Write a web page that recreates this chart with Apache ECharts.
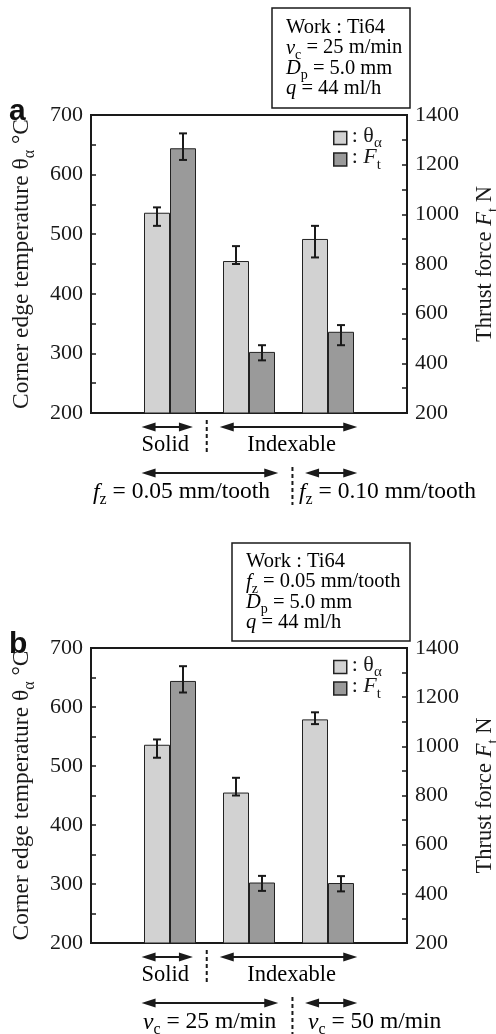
<!DOCTYPE html>
<html><head><meta charset="utf-8">
<script src="https://cdn.jsdelivr.net/npm/echarts/dist/echarts.min.js"></script>
<style>html,body{margin:0;padding:0;background:#fff}#c{width:496px;height:1034px}</style>
</head><body><div id="c"></div>
<script>
// ---------- data ----------
const groupX = [1, 2, 3];                 // Solid, Indexable, Indexable
const groupNames = ['Solid', 'Indexable', 'Indexable'];
const leftTicks = [200, 300, 400, 500, 600, 700];
const rightTicks = [200, 400, 600, 800, 1000, 1200, 1400];

// panel a
const thetaA = [536, 455, 492];
const thetaALo = [514, 450, 461];
const thetaAHi = [545, 480, 514];
const ftA = [1266, 446, 527];
const ftALo = [1219, 412, 473];
const ftAHi = [1326, 473, 554];
// panel b
const thetaB = [536, 455, 579];
const thetaBLo = [514, 450, 571];
const thetaBHi = [545, 480, 591];
const ftB = [1266, 446, 444];
const ftBLo = [1219, 412, 410];
const ftBHi = [1326, 473, 472];

// ---------- style ----------
const SERIF = 'Liberation Serif';
const INK = '#1a1a1a';
const LIGHT = '#d2d2d2';
const DARK = '#9a9a9a';
const BAR_W = 26;

function rich(fs, drop) {
  const sub = Math.round(fs * 0.68);
  return {
    m: {fontFamily: SERIF, fontSize: fs, color: INK, padding: [0, 0, drop, 0], verticalAlign: 'bottom'},
    i: {fontFamily: SERIF, fontSize: fs, color: INK, fontStyle: 'italic', padding: [0, 0, drop, 0], verticalAlign: 'bottom'},
    s: {fontFamily: SERIF, fontSize: sub, color: INK, verticalAlign: 'bottom'}
  };
}

const grids = [
  {left: 91, top: 115, width: 316, height: 298},
  {left: 91, top: 648, width: 316, height: 295}
];

function leftAxis(g) {
  return {
    type: 'value', gridIndex: g, position: 'left', min: leftTicks[0], max: leftTicks[leftTicks.length - 1], interval: 50,
    axisLine: {show: true, lineStyle: {color: INK, width: 2}},
    axisTick: {show: true, inside: true, length: 5, lineStyle: {color: INK, width: 1.5}},
    axisLabel: {formatter: v => leftTicks.includes(v) ? String(v) : '', fontFamily: SERIF, fontSize: 22, color: INK, margin: 8},
    splitLine: {show: false},
    name: '{m|Corner edge temperature θ}{s|α}{m| °C}', nameLocation: 'middle', nameGap: 53, nameRotate: 90,
    nameTextStyle: {rich: rich(23.5, 4)}
  };
}
function rightAxis(g) {
  return {
    type: 'value', gridIndex: g, position: 'right', min: rightTicks[0], max: rightTicks[rightTicks.length - 1], interval: 100,
    axisLine: {show: true, lineStyle: {color: INK, width: 2}},
    axisTick: {show: true, inside: true, length: 5, lineStyle: {color: INK, width: 1.5}},
    axisLabel: {formatter: v => rightTicks.includes(v) ? String(v) : '', fontFamily: SERIF, fontSize: 22, color: INK, margin: 8},
    splitLine: {show: false},
    name: '{m|Thrust force }{i|F}{s|t}{m| N}', nameLocation: 'middle', nameGap: 67, nameRotate: 90,
    nameTextStyle: {rich: rich(22.5, 4)}
  };
}

function barSeries(name, xi, yi, vals, color) {
  return {
    type: 'bar', name, xAxisIndex: xi, yAxisIndex: yi, barWidth: BAR_W, barGap: '0%',
    data: groupX.map((x, i) => [x, vals[i]]),
    itemStyle: {color, borderColor: '#222', borderWidth: 1},
    emphasis: {disabled: true}, animation: false
  };
}
function errSeries(xi, yi, lo, hi, dx) {
  return {
    type: 'custom', xAxisIndex: xi, yAxisIndex: yi, z: 5, animation: false, silent: true,
    encode: {x: 0, y: [1, 2]},
    data: groupX.map((x, i) => [x, lo[i], hi[i]]),
    renderItem: (params, api) => {
      const top = api.coord([api.value(0), api.value(2)]);
      const bot = api.coord([api.value(0), api.value(1)]);
      const x = top[0] + dx, cw = 4;
      const style = {stroke: INK, lineWidth: 2};
      return {type: 'group', children: [
        {type: 'line', shape: {x1: x, y1: top[1], x2: x, y2: bot[1]}, style},
        {type: 'line', shape: {x1: x - cw, y1: top[1], x2: x + cw, y2: top[1]}, style},
        {type: 'line', shape: {x1: x - cw, y1: bot[1], x2: x + cw, y2: bot[1]}, style}
      ]};
    }
  };
}

const legendFmt = n => n === 'theta' ? '{m|: θ}{s|α}' : '{m|: }{i|F}{s|t}';
function legendAt(top) {
  return {
    left: 333, top, orient: 'vertical', itemWidth: 13, itemHeight: 13, itemGap: -4.5, padding: 0,
    icon: 'rect', selectedMode: false, data: ['theta', 'Ft'], formatter: legendFmt,
    itemStyle: {borderColor: '#222', borderWidth: 1.5},
    textStyle: {rich: rich(22, 4)}
  };
}

const chart = echarts.init(document.getElementById('c'), null, {renderer: 'canvas'});
chart.setOption({
  backgroundColor: '#fff',
  animation: false,
  grid: grids.map(g => Object.assign({show: true, borderColor: INK, borderWidth: 2, backgroundColor: 'transparent',
    containLabel: false, outerBoundsMode: 'none'}, g)),
  xAxis: [0, 1].map(g => ({type: 'value', gridIndex: g, min: 0, max: 4, show: false})),
  yAxis: [leftAxis(0), rightAxis(0), leftAxis(1), rightAxis(1)],
  legend: [legendAt(125), legendAt(654)],
  series: [
    barSeries('theta', 0, 0, thetaA, LIGHT),
    barSeries('Ft', 0, 1, ftA, DARK),
    errSeries(0, 0, thetaALo, thetaAHi, -BAR_W / 2),
    errSeries(0, 1, ftALo, ftAHi, BAR_W / 2),
    barSeries('theta', 1, 2, thetaB, LIGHT),
    barSeries('Ft', 1, 3, ftB, DARK),
    errSeries(1, 2, thetaBLo, thetaBHi, -BAR_W / 2),
    errSeries(1, 3, ftBLo, ftBHi, BAR_W / 2)
  ]
});

// ---------- annotations ----------
function px(gi, xv) { return chart.convertToPixel({xAxisIndex: gi}, xv); }
function arrow(x1, x2, y) {
  const L = 14, H = 4.5;
  return {type: 'group', silent: true, children: [
    {type: 'line', shape: {x1: x1 + 6, y1: y, x2: x2 - 6, y2: y}, style: {stroke: INK, lineWidth: 2}},
    {type: 'polygon', shape: {points: [[x1, y], [x1 + L, y - H], [x1 + L, y + H]]}, style: {fill: INK}},
    {type: 'polygon', shape: {points: [[x2, y], [x2 - L, y - H], [x2 - L, y + H]]}, style: {fill: INK}}
  ]};
}
function dash(x, y1, y2) {
  return {type: 'line', silent: true, shape: {x1: x, y1, x2: x, y2}, style: {stroke: INK, lineWidth: 2, lineDash: [4, 3]}};
}
function txt(str, x, y, fs, align) {
  return {type: 'text', silent: true, x, y, style: {text: str, rich: rich(fs, 4), align: align || 'left', verticalAlign: 'middle'}};
}
function infoBox(x, y, w, h, lines, tx, ty0) {
  const kids = [{type: 'rect', shape: {x, y, width: w, height: h}, style: {fill: '#fff', stroke: INK, lineWidth: 1.5}}];
  lines.forEach((l, k) => kids.push(txt(l, tx, ty0 + k * 20.3, 20.5)));
  return {type: 'group', silent: true, children: kids};
}

const g = [];
// panel letters
g.push({type: 'text', x: 9, y: 97, style: {text: 'a', fontFamily: 'Liberation Sans', fontWeight: 'bold', fontSize: 30, fill: '#111', verticalAlign: 'alphabetic'}});
g.push({type: 'text', x: 9, y: 630, style: {text: 'b', fontFamily: 'Liberation Sans', fontWeight: 'bold', fontSize: 30, fill: '#111', verticalAlign: 'alphabetic'}});

// info boxes
g.push(infoBox(272, 8, 138, 100, [
  '{m|Work : Ti64}',
  '{i|v}{s|c}{m| = 25 m/min}',
  '{i|D}{s|p}{m| = 5.0 mm}',
  '{i|q}{m| = 44 ml/h}'
], 286, 29.6));
g.push(infoBox(232, 543, 178, 98, [
  '{m|Work : Ti64}',
  '{i|f}{s|z}{m| = 0.05 mm/tooth}',
  '{i|D}{s|p}{m| = 5.0 mm}',
  '{i|q}{m| = 44 ml/h}'
], 246, 563.6));

// bottom annotations for both panels
[[0, 413, '{i|f}{s|z}{m| = 0.05 mm/tooth}', '{i|f}{s|z}{m| = 0.10 mm/tooth}', 93, 299],
 [1, 943, '{i|v}{s|c}{m| = 25 m/min}', '{i|v}{s|c}{m| = 50 m/min}', 143, 308]].forEach(([gi, base, l1, l2, lx, rx]) => {
  const y1 = base + 14, y2 = base + 60;
  g.push(arrow(px(gi, 0.64), px(gi, 1.29), y1));
  g.push(dash(px(gi, 1.465), base + 7, base + 41));
  g.push(arrow(px(gi, 1.63), px(gi, 3.37), y1));
  g.push(txt('{m|' + groupNames[0] + '}', px(gi, 0.94), base + 34, 22.5, 'center'));
  g.push(txt('{m|' + groupNames[1] + '}', px(gi, 2.54), base + 34, 22.5, 'center'));
  g.push(arrow(px(gi, 0.64), px(gi, 2.37), y2));
  g.push(dash(px(gi, 2.55), base + 54, base + 92));
  g.push(arrow(px(gi, 2.71), px(gi, 3.37), y2));
  g.push(txt(l1, lx, base + 81, 23.5, 'left'));
  g.push(txt(l2, rx, base + 81, 23.5, 'left'));
});
chart.setOption({graphic: g});
</script></body></html>
